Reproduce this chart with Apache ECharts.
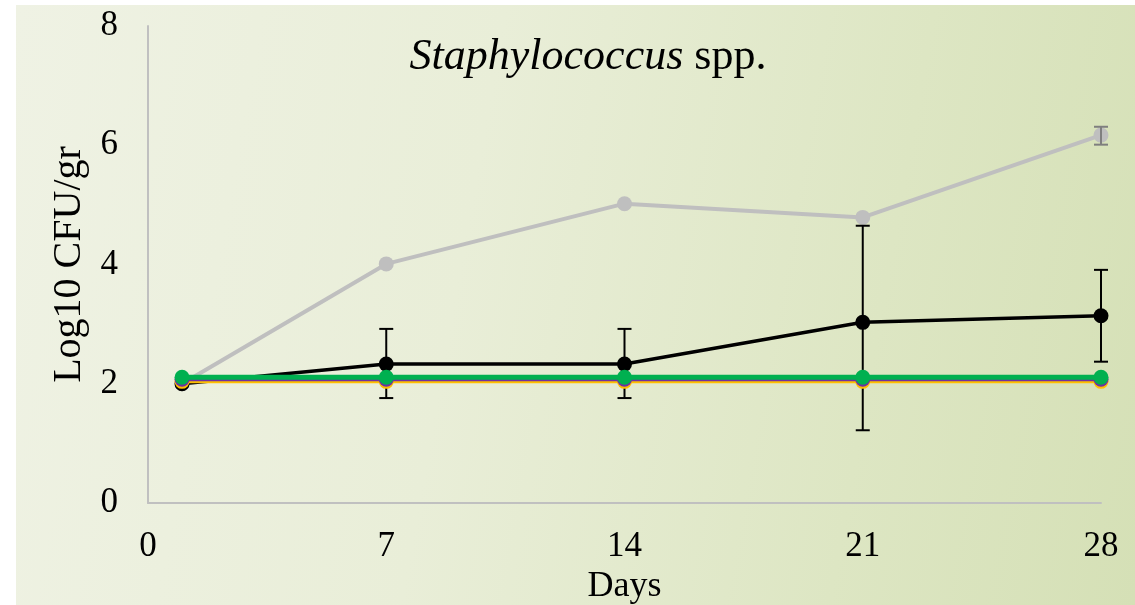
<!DOCTYPE html>
<html>
<head>
<meta charset="utf-8">
<script src="https://cdn.jsdelivr.net/npm/echarts@6/dist/echarts.min.js"></script>
<style>
  html, body { margin: 0; padding: 0; background: #ffffff; }
  #bg { position: absolute; left: 16px; top: 5px; width: 1119px; height: 600px;
        background: linear-gradient(100deg, #eff2e4 0%, #e9eed8 40%, #dde6c3 75%, #d5e0b6 100%); }
  #chart { position: absolute; left: 0; top: 0; width: 1135px; height: 605px; }
</style>
</head>
<body>
<div id="bg"></div>
<div id="chart"></div>
<script>
const days = [1, 7, 14, 21, 28];
const xTicks = [0, 7, 14, 21, 28];
const yTicks = [0, 2, 4, 6, 8];

const grayVals   = [2.00, 4.01, 5.02, 4.79, 6.17];
const grayLow    = [2.00, 4.01, 5.02, 4.79, 6.01];
const grayHigh   = [2.00, 4.01, 5.02, 4.79, 6.31];

const blackVals  = [2.00, 2.33, 2.33, 3.03, 3.14];
const blackLow   = [2.00, 1.76, 1.76, 1.22, 2.37];
const blackHigh  = [2.00, 2.92, 2.92, 4.65, 3.91];

const orangeVals = [2.04, 2.04, 2.04, 2.04, 2.04];
const purpleVals = [2.075, 2.075, 2.075, 2.075, 2.075];
const greenVals  = [2.11, 2.11, 2.11, 2.11, 2.11];

const FONT = '"Liberation Serif", "Times New Roman", serif';

function pairs(vals) { return days.map((d, i) => [d, vals[i]]); }
function errData(low, high) {
  return days.map((d, i) => [d, low[i], high[i]]).filter(r => r[2] > r[1]);
}
function errSeries(low, high, color, z) {
  return {
    type: 'custom',
    z: z,
    silent: true,
    data: errData(low, high),
    encode: { x: 0, y: [1, 2] },
    renderItem: function (params, api) {
      const x = api.value(0);
      const lo = api.coord([x, api.value(1)]);
      const hi = api.coord([x, api.value(2)]);
      const w = 7;
      const st = { stroke: color, lineWidth: 2 };
      return {
        type: 'group',
        children: [
          { type: 'line', shape: { x1: lo[0], y1: lo[1], x2: hi[0], y2: hi[1] }, style: st },
          { type: 'line', shape: { x1: lo[0] - w, y1: lo[1], x2: lo[0] + w, y2: lo[1] }, style: st },
          { type: 'line', shape: { x1: hi[0] - w, y1: hi[1], x2: hi[0] + w, y2: hi[1] }, style: st }
        ]
      };
    }
  };
}
function lineSeries(name, vals, color, width, z) {
  return {
    name: name, type: 'line', z: z, data: pairs(vals),
    symbol: 'circle', symbolSize: 15,
    lineStyle: { color: color, width: width },
    itemStyle: { color: color },
    emphasis: { disabled: true },
    animation: false
  };
}

const chart = echarts.init(document.getElementById('chart'), null, { renderer: 'canvas' });
chart.setOption({
  backgroundColor: 'transparent',
  animation: false,
  title: {
    left: 583, top: 30, textAlign: 'center',
    text: '{i|Staphylococcus}{n| spp.}',
    textStyle: {
      fontWeight: 'normal',
      rich: {
        i: { fontFamily: FONT, fontStyle: 'italic', fontWeight: 'normal', fontSize: 44, color: '#000' },
        n: { fontFamily: FONT, fontWeight: 'normal', fontSize: 44, color: '#000' }
      }
    }
  },
  grid: { left: 148, right: 34, top: 26, bottom: 102, containLabel: false, outerBoundsMode: 'none' },
  xAxis: {
    type: 'value', min: 0, max: 28, interval: 7,
    name: 'Days', nameLocation: 'middle', nameGap: 62,
    nameTextStyle: { fontFamily: FONT, fontSize: 36, color: '#000' },
    axisLine: { show: true, lineStyle: { color: '#c0c0c0', width: 2 } },
    axisTick: { show: false },
    splitLine: { show: false },
    axisLabel: { fontFamily: FONT, fontSize: 35, color: '#000', margin: 26,
      formatter: v => xTicks.includes(v) ? String(v) : '' }
  },
  yAxis: {
    type: 'value', min: 0, max: 8, interval: 2,
    name: 'Log10 CFU/gr', nameLocation: 'middle', nameGap: 58,
    nameTextStyle: { fontFamily: FONT, fontSize: 40, color: '#000' },
    axisLine: { show: true, lineStyle: { color: '#c0c0c0', width: 2 } },
    axisTick: { show: false },
    splitLine: { show: false },
    axisLabel: { fontFamily: FONT, fontSize: 35, color: '#000', margin: 30,
      formatter: v => yTicks.includes(v) ? String(v) : '' }
  },
  series: [
    lineSeries('gray', grayVals, '#bfbfbf', 4, 2),
    errSeries(grayLow, grayHigh, '#7f7f7f', 3),
    errSeries(blackLow, blackHigh, '#000000', 4),
    lineSeries('black', blackVals, '#000000', 3.5, 5),
    lineSeries('orange', orangeVals, '#ffc000', 4, 6),
    lineSeries('purple', purpleVals, '#7030a0', 4, 7),
    lineSeries('green', greenVals, '#00b050', 5, 8)
  ]
});
</script>
</body>
</html>
